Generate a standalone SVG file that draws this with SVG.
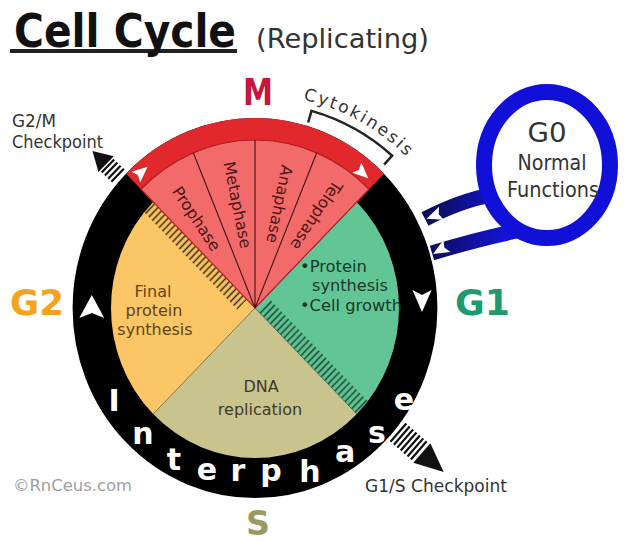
<svg xmlns="http://www.w3.org/2000/svg" width="630" height="542" viewBox="0 0 630 542">
<style>
.lbl{font-family:"DejaVu Sans",Verdana,sans-serif;fill:#333}
.big{font-family:"DejaVu Sans",Verdana,sans-serif;font-weight:bold}
.ph{font-family:"DejaVu Sans",Verdana,sans-serif;font-size:16px;fill:#4a1616;text-anchor:middle}
.int{font-family:"DejaVu Sans",Verdana,sans-serif;font-weight:bold;font-size:30px;fill:#fff;text-anchor:middle}
.sec{font-family:"DejaVu Sans",Verdana,sans-serif;font-size:16px}
.wa{fill:#fff}
.stripe{stroke:#111;stroke-width:2.2}
</style>
<defs>
<pattern id="hatchY" width="5" height="10" patternUnits="userSpaceOnUse" patternTransform="rotate(45)"><line x1="2.5" y1="0" x2="2.5" y2="10" stroke="#3a2a0a" stroke-width="1.6"/></pattern>
<pattern id="hatchG" width="5" height="10" patternUnits="userSpaceOnUse" patternTransform="rotate(45)"><line x1="2.5" y1="0" x2="2.5" y2="10" stroke="#17472e" stroke-width="1.6"/></pattern>
<linearGradient id="armGrad" gradientUnits="userSpaceOnUse" x1="505" y1="0" x2="425" y2="0"><stop offset="0" stop-color="#1414d6"/><stop offset="1" stop-color="#0c0c50"/></linearGradient>
<path id="ahBig" d="M12,0 L-11,-13 L-6,0 L-11,13 Z"/>
<path id="ahMid" d="M11,0 L-11,-10 L-6,0 L-11,10 Z"/>
<path id="ahSmall" d="M8,0 L-8,-7 L-5,0 L-8,7 Z"/>
<path id="cytoArc" d="M303.1,99.5 A214,214 0 0,1 418.9,170.4"/>
</defs>
<rect width="630" height="542" fill="#fff"/>

<g id="title">
<rect x="10" y="49" width="227" height="4" fill="#222"/>
<text class="big" x="14" y="47" font-size="46" textLength="222" lengthAdjust="spacingAndGlyphs" fill="#111">Cell Cycle</text>
<text class="lbl" x="256" y="48" font-size="27" textLength="173" lengthAdjust="spacingAndGlyphs" fill="#2a2a2a">(Replicating)</text>
</g>

<g id="wheel" transform="translate(255,308) scale(0.96,1)">
<g id="g2-sector"><path d="M0,0 L-107,-107 A151.3,151.3 0 0,0 -107,107 Z" fill="#fcc666"/><path d="M-8.5,-8.5 L-106.07,-106.07 L-115.97,-96.17 L-18.39,1.41 Z" fill="url(#hatchY)"/></g>
<g id="s-sector"><path d="M0,0 L-107,107 A151.3,151.3 0 0,0 107,107 Z" fill="#c9c48e"/></g>
<g id="g1-sector"><path d="M0,0 L107,107 A151.3,151.3 0 0,0 107,-107 Z" fill="#62c596"/><path d="M3.5,3.5 L106.07,106.07 L118.09,94.05 L15.5,-8.5 Z" fill="url(#hatchG)"/></g>
<g id="divisions" stroke-width="0.9" fill="none">
<path d="M0,0 L-107,107" stroke="#7a6a30"/>
<path d="M0,0 L107,107" stroke="#3f6a4a"/>
<path d="M0,0 L107,-107" stroke="#5a3a2a"/>
</g>
<g id="interphase-ring"><circle r="170" fill="none" stroke="#000" stroke-width="40"/></g>
<g id="m-sector">
<path d="M134.35,-134.35 A190,190 0 0,0 -134.35,-134.35 L-118.79,-118.79 A168,168 0 0,1 118.79,-118.79 Z" fill="#e1282c"/>
<path d="M0,0 L118.79,-118.79 A168,168 0 0,0 -118.79,-118.79 Z" fill="#f36a6a" stroke="#b81c20" stroke-width="1.2"/>
<path d="M0,0 L64.29,-155.21 M0,0 L0,-168 M0,0 L-64.29,-155.21" stroke="#3a1010" stroke-width="1.1" fill="none"/>
</g>
<g id="ring-arrows">
<use href="#ahBig" class="wa" transform="translate(-170,-1) rotate(-90)"/>
<use href="#ahMid" class="wa" transform="translate(174,-7) rotate(90)"/>
<use href="#ahSmall" class="wa" transform="translate(-118,-136) rotate(-40)"/>
<use href="#ahSmall" class="wa" transform="translate(112,-135) rotate(42)"/>
</g>
</g>

<g id="m-phases">
<text class="ph" transform="translate(196,219) rotate(56.25)" dy="5">Prophase</text>
<text class="ph" transform="translate(237,205) rotate(78.75)" dy="5">Metaphase</text>
<text class="ph" transform="translate(279,204) rotate(101.25)" dy="5">Anaphase</text>
<text class="ph" transform="translate(316,215) rotate(123.75)" dy="5">Telophase</text>
</g>

<g id="g1-text" class="sec" fill="#173a28">
<text x="300" y="272" textLength="67" lengthAdjust="spacingAndGlyphs">•Protein</text>
<text x="312" y="291" textLength="76" lengthAdjust="spacingAndGlyphs">synthesis</text>
<text x="300" y="311" textLength="102" lengthAdjust="spacingAndGlyphs">•Cell growth</text>
</g>
<g id="g2-text" class="sec" fill="#5e4514" text-anchor="middle">
<text x="153" y="297">Final</text>
<text x="154" y="316">protein</text>
<text x="155" y="335">synthesis</text>
</g>
<g id="s-text" class="sec" fill="#3d3b2a" text-anchor="middle">
<text x="261" y="392">DNA</text>
<text x="260" y="415">replication</text>
</g>

<g id="interphase-letters" class="int">
<text x="114" y="411">I</text>
<text x="143" y="444">n</text>
<text x="174" y="470">t</text>
<text x="207" y="480">e</text>
<text x="238" y="481">r</text>
<text x="271" y="481">p</text>
<text x="310" y="482">h</text>
<text x="345" y="462">a</text>
<text x="377" y="443">s</text>
<text x="404" y="410">e</text>
</g>

<g id="g2m-checkpoint" transform="translate(255,308) rotate(-136)">
<path class="stripe" d="M191,-9 L191,9 M195.5,-9 L195.5,9 M200,-9 L200,9 M204.5,-9 L204.5,9"/>
<path d="M207,-11 L226,0 L207,11 Z" fill="#111"/>
</g>
<g id="g1s-checkpoint" transform="translate(255,308) rotate(41)">
<path class="stripe" d="M190,-12 L190,12 M194.5,-12 L194.5,12 M199,-12 L199,12 M203.5,-12 L203.5,12 M208,-12 L208,12 M212.5,-12 L212.5,12 M217,-12 L217,12"/>
<path d="M221,-13 L250,0 L221,13 Z" fill="#111"/>
</g>

<g id="cytokinesis">
<path d="M308.2,122.5 L311.5,110.9 A205,205 0 0,1 392.2,155.7 L384.1,164.6" fill="none" stroke="#222" stroke-width="2.5"/>
<text class="lbl" font-size="17" letter-spacing="2.2" fill="#222"><textPath href="#cytoArc">Cytokinesis</textPath></text>
</g>

<g id="connectors" fill="none">
<path d="M505,193 C475,196 450,206 425,219" stroke="url(#armGrad)" stroke-width="15"/>
<path d="M522,230 C492,236 465,243 432,253" stroke="url(#armGrad)" stroke-width="15"/>
<use href="#ahSmall" class="wa" transform="translate(434,216) rotate(160)"/>
<use href="#ahSmall" class="wa" transform="translate(440,250) rotate(150)"/>
</g>

<g id="g0">
<ellipse cx="547" cy="165" rx="63" ry="73" fill="#fff" stroke="#1010d8" stroke-width="16"/>
<text class="lbl" x="547" y="142" font-size="27" text-anchor="middle" textLength="39" lengthAdjust="spacingAndGlyphs">G0</text>
<text class="lbl" x="552" y="170" font-size="21" text-anchor="middle" textLength="69" lengthAdjust="spacingAndGlyphs">Normal</text>
<text class="lbl" x="553" y="197" font-size="21" text-anchor="middle" textLength="92" lengthAdjust="spacingAndGlyphs">Functions</text>
</g>

<g id="phase-labels" class="big">
<text x="243" y="105" font-size="37" textLength="30" lengthAdjust="spacingAndGlyphs" fill="#c8153d">M</text>
<text x="10" y="315" font-size="36" textLength="54" lengthAdjust="spacingAndGlyphs" fill="#f4a320">G2</text>
<text x="455" y="315" font-size="36" textLength="55" lengthAdjust="spacingAndGlyphs" fill="#1e9b6e">G1</text>
<text x="246" y="535" font-size="33" textLength="24" lengthAdjust="spacingAndGlyphs" fill="#9c9866">S</text>
</g>

<g id="notes" class="lbl">
<text x="12" y="127" font-size="18" textLength="44" lengthAdjust="spacingAndGlyphs">G2/M</text>
<text x="12" y="148" font-size="17.5" textLength="91" lengthAdjust="spacingAndGlyphs">Checkpoint</text>
<text x="365" y="492" font-size="17.5" textLength="142" lengthAdjust="spacingAndGlyphs">G1/S Checkpoint</text>
<text x="13" y="491" font-size="16" textLength="119" lengthAdjust="spacingAndGlyphs" fill="#a0a0a0">©RnCeus.com</text>
</g>
</svg>
